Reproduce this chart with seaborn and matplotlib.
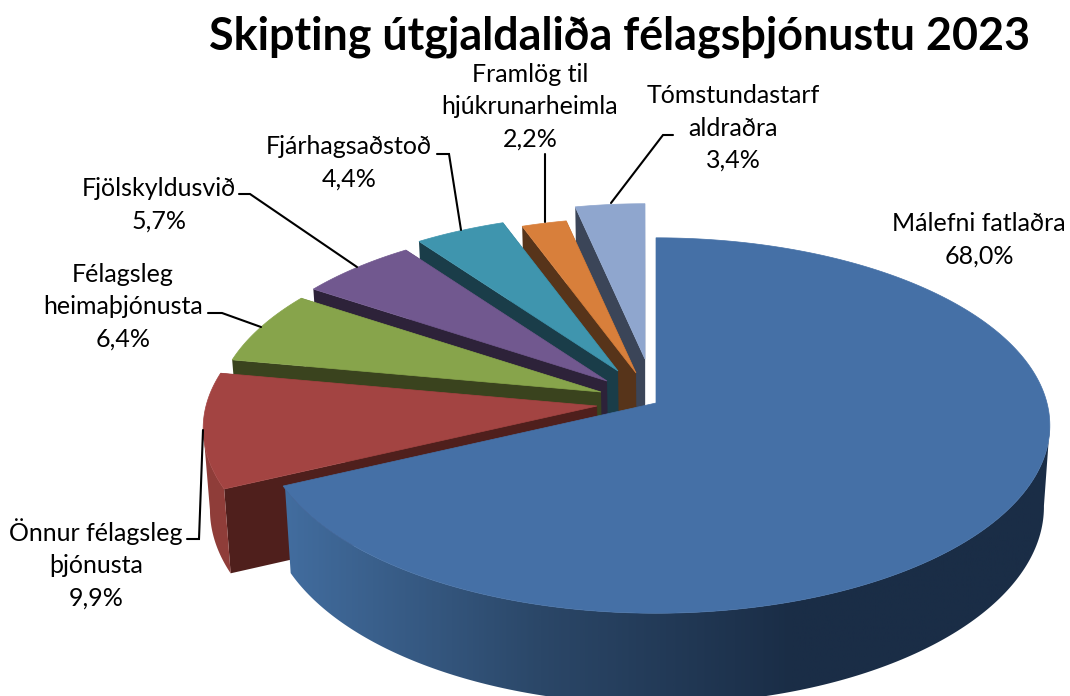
import numpy as np
import matplotlib
matplotlib.use("Agg")
import matplotlib.pyplot as plt
from matplotlib.patches import Polygon
import seaborn as sns

# === Data ===
categories = ["Málefni fatlaðra", "Önnur félagsleg\nþjónusta", "Félagsleg\nheimaþjónusta",
              "Fjölskyldusvið", "Fjárhagsaðstoð", "Framlög til\nhjúkrunarheimla",
              "Tómstundastarf\naldraðra"]
values = [68.0, 9.9, 6.4, 5.7, 4.4, 2.2, 3.4]
title = "Skipting útgjaldaliða félagsþjónustu 2023"

# === Style: colours, how far each slice is pulled out, labels ===
top_colors = ["#4570a6", "#a34442", "#87a44b", "#71588f", "#3f95ae", "#d87f3b", "#8fa6ce"]
wall_colors = ["#1a2d47", "#4f1f1c", "#3a431e", "#2d2239", "#1a3d49", "#57341a", "#3b4558"]
rim_colors = ["#1a2d47", "#8f3d39", "#3a431e", "#2d2239", "#1a3d49", "#57341a", "#3b4558"]
explode_x = [0, -59, -55, -49, -38, -20, -11]
explode_y = [0, 3, -11, -22, -32, -30, -44]
radius_scale = [1.0, 1.0, 0.98, 0.96, 0.95, 0.94, 0.94]
label_x = [979, 96, 123, 159, 349, 530, 733]
label_y = [240, 564, 307, 205, 163, 107, 128]
leader_x = [None, [187, 199, 203], [208, 222, 261], [239, 250, 357], [437, 449, 461],
            [545, 545], [673, 663, 611]]
leader_y = [None, [539, 539, 430], [313, 313, 327], [194, 194, 267], [154, 154, 230],
            [154, 222], [135, 135, 203]]

# pie geometry in pixels
OX, OY = 656, 403
RX, RY = 391, 185
PERSP = 0.12
DEPTH = 80
SHRINK = 0.985

sns.set_theme(style="white")
plt.rcParams["font.family"] = ["Lato", "DejaVu Sans"]


def top_point(ang, r, i):
    px = np.sin(ang)
    py = np.cos(ang)
    s = 1 / (1 + PERSP * py)
    x = OX + explode_x[i] + r * RX * px * s
    y = OY + explode_y[i] - r * RY * py * s
    return x, y, s


def bottom_point(ang, r, i):
    x, y, s = top_point(ang, r, i)
    return OX + (x - OX) * SHRINK, y + DEPTH * s


fig = plt.figure(figsize=(10.7, 6.96), dpi=100)
ax = fig.add_axes([0, 0, 1, 1])
ax.axis("off")

fracs = np.array(values) / sum(values)
edges = np.concatenate([[0], np.cumsum(fracs)]) * 2 * np.pi
main_wall = sns.blend_palette(["#426d9f", "#2b4768", "#1a2d46", "#1a2d46"], 400)

# back slices first, the big one last
for i in range(len(values) - 1, -1, -1):
    a0, a1 = edges[i], edges[i + 1]
    r = radius_scale[i]
    arc = np.linspace(a0, a1, 300)

    # cut walls (the big slice shows none of its own)
    if i > 0:
        for a in (a0, a1):
            tx, ty, _ = top_point(a, r, i)
            bx, by = bottom_point(a, r, i)
            cx, cy, _ = top_point(a, 0, i)
            dx, dy = bottom_point(a, 0, i)
            ax.fill([cx, tx, bx, dx], [cy, ty, by, dy], color=wall_colors[i], lw=0)

    tops = [top_point(a, r, i) for a in arc]

    # outer wall: only the part of the rim that faces the viewer (x falls going clockwise)
    rim_x = np.array([p[0] for p in tops])
    front = arc[:-1][np.diff(rim_x) < 0]
    if len(front) > 1:
        ftop = [top_point(a, r, i) for a in front]
        fbot = [bottom_point(a, r, i) for a in front]
        wall_xy = [(p[0], p[1]) for p in ftop] + [(p[0], p[1]) for p in fbot[::-1]]
        if i == 0:
            shape = Polygon(wall_xy, closed=True, transform=ax.transData, fc="none", ec="none")
            ax.add_patch(shape)
            grad = np.array(main_wall)[np.newaxis, :, :]
            img = ax.imshow(grad, extent=(283, 1050, 696, 380), aspect="auto", zorder=1.5)
            img.set_clip_path(shape)
        else:
            ax.fill([p[0] for p in wall_xy], [p[1] for p in wall_xy], color=rim_colors[i], lw=0)

    # top face
    cx, cy, _ = top_point(a0, 0, i)
    ax.fill([cx] + [p[0] for p in tops], [cy] + [p[1] for p in tops],
            color=top_colors[i], lw=0.5, zorder=2 if i == 0 else 1)

ax.set_xlim(0, 1070)
ax.set_ylim(696, 0)

# === Labels ===
for i, cat in enumerate(categories):
    pct = f"{values[i]:.1f}".replace(".", ",") + "%"
    ax.text(label_x[i], label_y[i], cat + "\n" + pct, ha="center", va="center",
            fontsize=18, linespacing=1.5, color="#000000", zorder=4)
    if leader_x[i] is not None:
        ax.plot(leader_x[i], leader_y[i], color="black", lw=1.5, solid_joinstyle="miter", zorder=3)

ax.text(620, 37, title, ha="center", va="center", fontsize=32.3, fontweight="bold",
        color="black", zorder=4)

fig.savefig("out.png", dpi=100)
